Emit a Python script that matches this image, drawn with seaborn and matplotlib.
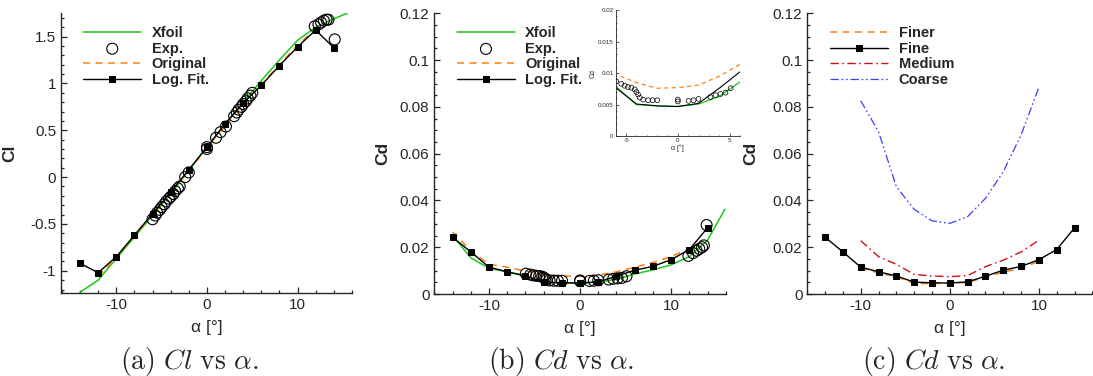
import numpy as np
import matplotlib
matplotlib.use("Agg")
import matplotlib.pyplot as plt
import seaborn as sns

# ---- (a) lift coefficient ----
xfoil_a_alpha = [-14, -12, -10, -8, -6, -4, -2, 0, 2, 4, 6, 8, 10, 12, 14, 15.5]
xfoil_cl = [-1.23, -1.10, -0.87, -0.64, -0.41, -0.18, 0.07, 0.32, 0.56, 0.80, 1.03, 1.25, 1.46, 1.60, 1.69, 1.75]

orig_a_alpha = [-12, -10, -8, -6, -4, -2, 0, 2, 4, 6, 8, 10, 12]
orig_cl = [-1.06, -0.86, -0.63, -0.40, -0.17, 0.07, 0.31, 0.55, 0.78, 0.99, 1.20, 1.41, 1.58]

fit_alpha = [-14, -12, -10, -8, -6, -4, -2, 0, 2, 4, 6, 8, 10, 12, 14]
fit_cl = [-0.92, -1.02, -0.85, -0.62, -0.39, -0.16, 0.08, 0.32, 0.57, 0.79, 0.98, 1.19, 1.39, 1.57, 1.38]

exp_cl_alpha = [-6.0, -5.7, -5.5, -5.2, -5.0, -4.7, -4.5, -4.2, -4.0, -3.7, -3.5, -3.2, -3.0, -2.4, -2.0,
                0.0, 0.0, 1.0, 1.5, 2.1, 3.0, 3.3, 3.5, 3.8, 4.0, 4.3, 4.5, 4.8, 5.0,
                11.9, 12.3, 12.6, 12.9, 13.2, 13.4, 14.1]
exp_cl = [-0.45, -0.41, -0.38, -0.35, -0.32, -0.29, -0.26, -0.23, -0.21, -0.18, -0.15, -0.12, -0.10, 0.00, 0.05,
          0.30, 0.32, 0.42, 0.48, 0.54, 0.65, 0.69, 0.72, 0.75, 0.78, 0.81, 0.84, 0.87, 0.90,
          1.61, 1.63, 1.65, 1.67, 1.68, 1.68, 1.47]

# ---- (b) drag coefficient ----
xfoil_b_alpha = [-14, -12, -10, -8, -6, -4, -2, 0, 2, 4, 6, 8, 10, 12, 14, 15.9]
xfoil_cd = [0.0250, 0.0155, 0.0110, 0.0095, 0.0079, 0.0050, 0.0048, 0.0047, 0.0051, 0.0063, 0.0086, 0.0103, 0.0125, 0.0160, 0.0230, 0.0362]

orig_b_alpha = [-14, -12, -10, -8, -6, -4, -2, 0, 2, 4, 6, 8, 10, 12, 13]
orig_cd = [0.0266, 0.0185, 0.0127, 0.0115, 0.0098, 0.0085, 0.0076, 0.0077, 0.0081, 0.0095, 0.0114, 0.0135, 0.0160, 0.0195, 0.0215]

fit_cd = [0.0243, 0.0180, 0.0115, 0.0095, 0.0077, 0.0051, 0.0048, 0.0047, 0.0052, 0.0076, 0.0102, 0.0118, 0.0147, 0.0190, 0.0283]

exp_cd_alpha = [-5.95, -5.46, -5.14, -4.81, -4.49, -4.16, -4.0, -3.84, -3.67, -3.35, -2.86, -2.44, -1.98,
                0.0, 0.0, 1.04, 1.52, 2.0, 3.15, 3.64, 4.12, 4.6, 5.1,
                11.9, 12.4, 12.8, 13.1, 13.4, 13.6, 13.9]
exp_cd = [0.0087, 0.0083, 0.0080, 0.0078, 0.0077, 0.0074, 0.0070, 0.0066, 0.0061, 0.0058, 0.0057, 0.0057, 0.0057,
          0.0058, 0.0055, 0.0056, 0.0057, 0.0059, 0.0062, 0.0065, 0.0067, 0.0069, 0.0076,
          0.0163, 0.0175, 0.0185, 0.0193, 0.0200, 0.0208, 0.0295]

# ---- (c) grid study ----
grid_alpha = [-10, -8, -6, -4, -2, 0, 2, 4, 6, 8, 10]
finer_cd = [0.0112, 0.0090, 0.0074, 0.0045, 0.0045, 0.0046, 0.0050, 0.0072, 0.0094, 0.0110, 0.0140]
medium_cd = [0.0228, 0.0160, 0.0127, 0.0084, 0.0077, 0.0074, 0.0079, 0.0117, 0.0145, 0.0180, 0.0230]
coarse_cd = [0.0826, 0.0694, 0.0459, 0.0362, 0.0313, 0.0302, 0.0331, 0.0409, 0.0523, 0.0680, 0.0884]

GREEN = "#19c819"
ORANGE = "#ff7f0e"
RED = "#d01010"
BLUE = "#3c3cff"

sns.set_style("ticks")
plt.rcParams["font.family"] = ["Liberation Sans", "DejaVu Sans"]
plt.rcParams["mathtext.fontset"] = "cm"
plt.rcParams["lines.scale_dashes"] = False
plt.rcParams["axes.unicode_minus"] = False

fig = plt.figure(figsize=(10.93, 3.76), dpi=100)
ax_a = fig.add_axes([0.0558, 0.220, 0.2662, 0.745])
ax_b = fig.add_axes([0.3974, 0.218, 0.2666, 0.7465])
ax_c = fig.add_axes([0.7386, 0.218, 0.2608, 0.7465])
ax_in = fig.add_axes([0.5633, 0.638, 0.1137, 0.335])

marker_kw = dict(marker="s", markersize=4, markeredgecolor="black", markerfacecolor="black")
circle_kw = dict(marker="o", s=62, facecolors="none", edgecolor="black", linewidth=0.8, zorder=4)


def style_axis(ax, ylabel, label_x, fs=11):
    sns.despine(ax=ax)
    ax.tick_params(which="both", direction="in", labelsize=fs, width=0.9)
    ax.tick_params(which="major", length=4.5)
    ax.tick_params(which="minor", length=2.2)
    ax.spines["left"].set_linewidth(1.0)
    ax.spines["bottom"].set_linewidth(1.0)
    ax.set_xlabel("α [°]", fontsize=12.5)
    ax.set_ylabel(ylabel, fontsize=12.5, fontweight="bold")
    ax.xaxis.set_label_coords(0.5, -0.095)
    ax.yaxis.set_label_coords(label_x, 0.5)
    ax.set_xticks([-10, 0, 10])
    ax.set_xticks(np.arange(-16, 17, 2), minor=True)


def legend(ax, x):
    ax.legend(loc="upper left", bbox_to_anchor=(x, 0.955), frameon=False, borderpad=0, borderaxespad=0,
              handlelength=4.0, handletextpad=0.7, labelspacing=0.12,
              prop={"weight": "bold", "size": 10.5})


# (a)
sns.lineplot(x=xfoil_a_alpha, y=xfoil_cl, ax=ax_a, color=GREEN, lw=1.1, label="Xfoil")
sns.scatterplot(x=exp_cl_alpha, y=exp_cl, ax=ax_a, label="Exp.", **circle_kw)
sns.lineplot(x=orig_a_alpha, y=orig_cl, ax=ax_a, color=ORANGE, lw=1.1, linestyle=(0, (5, 4)), label="Original")
sns.lineplot(x=fit_alpha, y=fit_cl, ax=ax_a, color="black", lw=1.0, label="Log. Fit.", **marker_kw)
ax_a.set_xlim(-16.1, 16)
ax_a.set_ylim(-1.24, 1.75)
style_axis(ax_a, "Cl", -0.151)
ax_a.set_yticks([-1, -0.5, 0, 0.5, 1, 1.5])
ax_a.set_yticklabels(["-1", "-0.5", "0", "0.5", "1", "1.5"])
ax_a.set_yticks(np.arange(-1.2, 1.8, 0.1), minor=True)
legend(ax_a, 0.076)

# (b)
sns.lineplot(x=xfoil_b_alpha, y=xfoil_cd, ax=ax_b, color=GREEN, lw=1.1, label="Xfoil")
sns.scatterplot(x=exp_cd_alpha, y=exp_cd, ax=ax_b, label="Exp.", **circle_kw)
sns.lineplot(x=orig_b_alpha, y=orig_cd, ax=ax_b, color=ORANGE, lw=1.1, linestyle=(0, (5, 4)), label="Original")
sns.lineplot(x=fit_alpha, y=fit_cd, ax=ax_b, color="black", lw=1.0, label="Log. Fit.", **marker_kw)
ax_b.set_xlim(-15.9, 15.9)
ax_b.set_ylim(0, 0.12)
style_axis(ax_b, "Cd", -0.152)
ax_b.set_yticks([0, 0.02, 0.04, 0.06, 0.08, 0.1, 0.12])
ax_b.set_yticklabels(["0", "0.02", "0.04", "0.06", "0.08", "0.1", "0.12"])
ax_b.set_yticks(np.arange(0, 0.121, 0.005), minor=True)
legend(ax_b, 0.077)

# inset of (b)
sns.lineplot(x=xfoil_b_alpha, y=xfoil_cd, ax=ax_in, color=GREEN, lw=0.9)
sns.lineplot(x=orig_b_alpha, y=orig_cd, ax=ax_in, color=ORANGE, lw=0.9, linestyle=(0, (3, 2.5)))
sns.lineplot(x=fit_alpha, y=fit_cd, ax=ax_in, color="black", lw=0.8)
sns.scatterplot(x=exp_cd_alpha, y=exp_cd, ax=ax_in, marker="o", s=12, facecolors="none",
                edgecolor="black", linewidth=0.5, zorder=4)
ax_in.set_xlim(-6, 6)
ax_in.set_ylim(0, 0.02)
sns.despine(ax=ax_in)
ax_in.patch.set_alpha(0)
ax_in.tick_params(which="both", direction="in", labelsize=4.5, width=0.5, pad=1.5)
ax_in.tick_params(which="major", length=2)
ax_in.tick_params(which="minor", length=1)
ax_in.spines["left"].set_linewidth(0.6)
ax_in.spines["bottom"].set_linewidth(0.6)
ax_in.set_xticks([-5, 0, 5])
ax_in.set_xticks(np.arange(-6, 6.1, 1), minor=True)
ax_in.set_yticks([0, 0.005, 0.01, 0.015, 0.02])
ax_in.set_yticklabels(["0", "0.005", "0.01", "0.015", "0.02"])
ax_in.set_yticks(np.arange(0, 0.0201, 0.001), minor=True)
ax_in.set_xlabel("α [°]", fontsize=5, labelpad=1)
ax_in.set_ylabel("Cd", fontsize=5, labelpad=1)

# (c)
sns.lineplot(x=grid_alpha, y=finer_cd, ax=ax_c, color=ORANGE, lw=1.1, linestyle=(0, (5, 4)), label="Finer")
sns.lineplot(x=fit_alpha, y=fit_cd, ax=ax_c, color="black", lw=1.0, label="Fine", **marker_kw)
sns.lineplot(x=grid_alpha, y=medium_cd, ax=ax_c, color=RED, lw=1.0, linestyle=(0, (6, 2.5, 1.2, 2.5)), label="Medium")
sns.lineplot(x=grid_alpha, y=coarse_cd, ax=ax_c, color=BLUE, lw=0.9,
             linestyle=(0, (6, 2, 1.2, 2, 1.2, 2)), label="Coarse")
ax_c.set_xlim(-16, 15.5)
ax_c.set_ylim(0, 0.12)
style_axis(ax_c, "Cd", -0.173)
ax_c.set_yticks([0, 0.02, 0.04, 0.06, 0.08, 0.1, 0.12])
ax_c.set_yticklabels(["0", "0.02", "0.04", "0.06", "0.08", "0.1", "0.12"])
ax_c.set_yticks(np.arange(0, 0.121, 0.005), minor=True)
legend(ax_c, 0.08)

# captions
captions = [r"$\mathrm{(a)}\ Cl\ \mathrm{vs}\ \alpha.$",
            r"$\mathrm{(b)}\ Cd\ \mathrm{vs}\ \alpha.$",
            r"$\mathrm{(c)}\ Cd\ \mathrm{vs}\ \alpha.$"]
for cx, cap in zip([189, 561, 934], captions):
    fig.text(cx / 1093, 1 - 361 / 376, cap, ha="center", va="center", fontsize=20)

fig.savefig("out.png", dpi=100)
